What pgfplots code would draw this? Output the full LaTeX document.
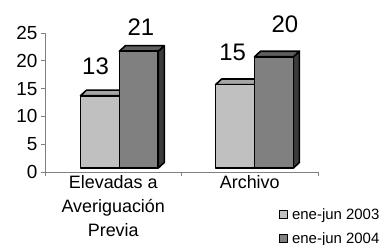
\documentclass[border=0pt]{standalone}
\usepackage{fontspec}
\setmainfont{Liberation Sans}
\usepackage{pgfplots}
\pgfplotsset{compat=1.18}
\definecolor{lfront}{HTML}{C0C0C0}
\definecolor{ltop}{HTML}{A6A6A6}
\definecolor{lside}{HTML}{909090}
\definecolor{dfront}{HTML}{808080}
\definecolor{dtop}{HTML}{5F5F5F}
\definecolor{dside}{HTML}{3C3C3C}
\definecolor{axisgray}{HTML}{808080}
% 3D column: x1, x2, value, front, top, side
\newcommand\cbar[6]{%
  \pgfmathsetmacro\xa{#1}\pgfmathsetmacro\xb{#2}%
  \pgfmathsetmacro\yb{0.72}\pgfmathsetmacro\yt{#3+0.72}%
  \pgfmathsetmacro\xc{#1+0.044}\pgfmathsetmacro\xd{#2+0.044}%
  \pgfmathsetmacro\ybb{0.72+1.0}\pgfmathsetmacro\ytt{#3+0.72+1.0}%
  \addplot[forget plot, fill=#6, draw=black, line width=1.6bp, line join=round] coordinates {(\xb,\yb) (\xd,\ybb) (\xd,\ytt) (\xb,\yt)} -- cycle;
  \addplot[forget plot, fill=#5, draw=black, line width=1.6bp, line join=round] coordinates {(\xa,\yt) (\xc,\ytt) (\xd,\ytt) (\xb,\yt)} -- cycle;
  \addplot[forget plot, fill=#4, draw=black, line width=1.6bp, line join=round] coordinates {(\xa,\yb) (\xa,\yt) (\xb,\yt) (\xb,\yb)} -- cycle;
}
\begin{document}
\begin{tikzpicture}
\path[use as bounding box] (-45bp,-73bp) rectangle (346bp,172bp);
\begin{axis}[
  at={(0,0)}, anchor=south west,
  scale only axis, width=273bp, height=139bp,
  xmin=0, xmax=2, ymin=0, ymax=25,
  axis x line=bottom, axis y line=left,
  axis line style={-, draw=axisgray, line width=0.8bp},
  tick style={draw=axisgray, line width=0.8bp},
  tick align=outside, major tick length=4bp,
  ytick={0,5,...,25},
  xtick={0,1,2}, xticklabels={},
  extra x ticks={0.5,1.5},
  extra x tick labels={{Elevadas a\\Averiguación\\Previa},{Archivo}},
  extra x tick style={major tick length=0pt},
  xticklabel style={align=center, font=\fontsize{18}{24}\selectfont},
  yticklabel style={font=\fontsize{19}{19}\selectfont},
  /pgf/number format/assume math mode=true,
  clip=false,
  legend style={at={(0.855,-0.245)}, anchor=north west, draw=none, fill=none,
    font=\fontsize{15}{15}\selectfont, row sep=8bp, inner sep=0pt,
    /tikz/every odd column/.append style={column sep=2bp}},
  legend cell align=left,
  legend image code/.code={\draw[#1, draw=black, line width=1.5bp] (0bp,-4bp) rectangle (8bp,4bp);},
]
\cbar{0.26}{0.545}{13}{lfront}{ltop}{lside}
\cbar{0.545}{0.83}{21}{dfront}{dtop}{dside}
\cbar{1.25}{1.535}{15}{lfront}{ltop}{lside}
\cbar{1.535}{1.82}{20}{dfront}{dtop}{dside}
\addplot[forget plot, draw=none, mark=none, nodes near coords, point meta=explicit symbolic,
  nodes near coords style={anchor=center, font=\fontsize{24}{24}\selectfont, text=black}]
  coordinates {(0.37,19.06) [13] (0.703,26.08) [21] (1.374,21.58) [15] (1.758,26.6) [20]};
\addlegendimage{fill=lfront}
\addlegendentry{ene-jun 2003}
\addlegendimage{fill=dfront}
\addlegendentry{ene-jun 2004}
\end{axis}
\end{tikzpicture}
\end{document}
